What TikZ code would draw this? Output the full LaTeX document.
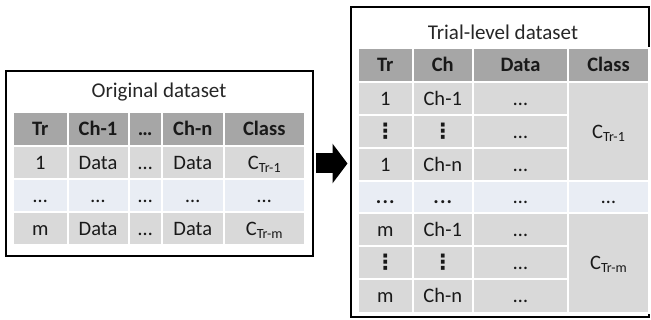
\documentclass[tikz,border=0pt]{standalone}
\usepackage{fontspec}
\setmainfont{Carlito}
\newfontfamily\symfont{DejaVu Sans}
\usepackage{xcolor}
\usepackage{tikz}
\usetikzlibrary{arrows.meta}

\definecolor{hdgray}{HTML}{A6A6A6}
\definecolor{rowgray}{HTML}{D9D9D9}
\definecolor{rowblue}{HTML}{E9EDF4}
\newcommand{\vdts}{{\symfont\bfseries\fontsize{21}{21}\selectfont ⋮}}
\newcommand{\wdots}{\textbf{.\kern1.2pt.\kern1.2pt.}}
\newcommand{\Ctr}[1]{C\raisebox{-3pt}{\fontsize{14}{14}\selectfont Tr-#1}}

\begin{document}
\begin{tikzpicture}[x=1pt,y=-1pt,
        cell/.style={draw=white,line width=2pt,inner sep=0pt,text height=13.5pt,text depth=0pt,
            font=\fontsize{20.5}{24}\selectfont,text=black!90},
        head/.style={cell,fill=hdgray,font=\fontsize{20.5}{24}\selectfont\bfseries},
        frame/.style={draw=black,line width=2pt,inner sep=0pt},
        ttl/.style={font=\fontsize{21}{25}\selectfont,text=black!85}]
        \useasboundingbox (0,0) rectangle (651,320);
        \node[frame,minimum width=307,minimum height=185] (orig) at (159.5,163.5) {};
        \node[frame,minimum width=298,minimum height=310] (trial) at (500,162.5) {};
        \node[ttl] (origtitle) at (159,92) {Original dataset};
        \node[ttl] (trialtitle) at (503,32) {Trial-level dataset};
        % original dataset
        \foreach \xa/\xb/\t [count=\i] in {13/67.5/Tr,67.5/128.5/Ch-1,128.5/162/…,162/223.5/Ch-n,223.5/305/Class}
            \node[head,minimum width=\xb-\xa,minimum height=34] (oh\i) at ({(\xa+\xb)/2},129) {\t};
        \foreach \ya/\yb/\f/\ta/\tb/\tc/\td/\te [count=\r] in {146/179/rowgray/1/Data/…/Data/\Ctr{1},
                179/212/rowblue/…/…/…/…/…, 212/245/rowgray/m/Data/…/Data/\Ctr{m}}{
            \node[cell,fill=\f,minimum width=54.5,minimum height=\yb-\ya] (o\r a) at (40.25,{(\ya+\yb)/2}) {\ta};
            \node[cell,fill=\f,minimum width=61,minimum height=\yb-\ya] (o\r b) at (98,{(\ya+\yb)/2}) {\tb};
            \node[cell,fill=\f,minimum width=33.5,minimum height=\yb-\ya] (o\r c) at (145.25,{(\ya+\yb)/2}) {\tc};
            \node[cell,fill=\f,minimum width=61.5,minimum height=\yb-\ya] (o\r d) at (192.75,{(\ya+\yb)/2}) {\td};
            \node[cell,fill=\f,minimum width=81.5,minimum height=\yb-\ya] (o\r e) at (264.25,{(\ya+\yb)/2}) {\te};
        }
        % trial-level dataset
        \foreach \xa/\xb/\t [count=\i] in {358/412.5/Tr,412.5/473/Ch,473/568/Data,568/649/Class}
            \node[head,minimum width=\xb-\xa,minimum height=34] (th\i) at ({(\xa+\xb)/2},65) {\t};
        \foreach \ya/\yb/\f/\ta/\tb [count=\r] in {82/115/rowgray/1/Ch-1, 115/148/rowgray/\vdts/\vdts,
                148/181/rowgray/1/Ch-n, 181/213.5/rowblue/\wdots/\wdots,
                213.5/246.5/rowgray/m/Ch-1, 246.5/279.5/rowgray/\vdts/\vdts, 279.5/313/rowgray/m/Ch-n}{
            \node[cell,fill=\f,minimum width=54.5,minimum height=\yb-\ya] (t\r a) at (385.25,{(\ya+\yb)/2}) {\ta};
            \node[cell,fill=\f,minimum width=60.5,minimum height=\yb-\ya] (t\r b) at (442.75,{(\ya+\yb)/2}) {\tb};
            \node[cell,fill=\f,minimum width=95,minimum height=\yb-\ya] (t\r c) at (520.5,{(\ya+\yb)/2}) {…};
        }
        \node[cell,fill=rowgray,minimum width=81,minimum height=99] (tc1) at (608.5,131.5) {\Ctr{1}};
        \node[cell,fill=rowblue,minimum width=81,minimum height=32.5] (tc2) at (608.5,197.25) {…};
        \node[cell,fill=rowgray,minimum width=81,minimum height=99.5] (tc3) at (608.5,263.25) {\Ctr{m}};
        \draw[line width=20pt,-{Triangle[length=15pt,width=39pt]}]
            ([xshift=2pt]orig.east) -- ([xshift=-2.5pt]orig.east -| trial.west);
    \end{tikzpicture}
\end{document}
